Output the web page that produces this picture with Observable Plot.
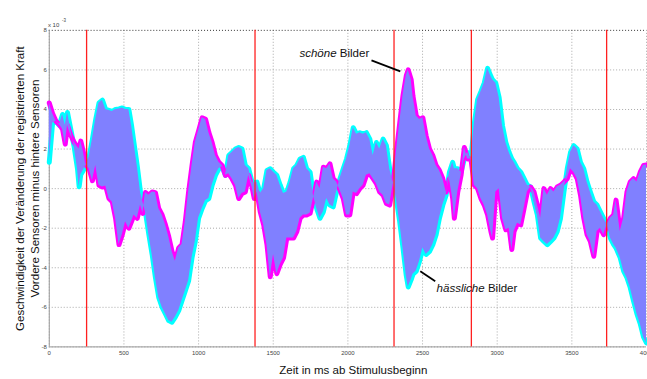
<!DOCTYPE html>
<html><head><meta charset="utf-8">
<script src="https://cdn.jsdelivr.net/npm/d3@7"></script>
<script src="https://cdn.jsdelivr.net/npm/@observablehq/plot@0.6"></script>
<style>
html,body{margin:0;padding:0;background:#fff;overflow:hidden;}
#chart{width:647px;height:379px;overflow:hidden;}
</style></head><body><div id="chart"></div>
<script>
// Zeit in ms
const times = [0,22,45,67,89,107,122,144,167,189,200,211,227,245,267,289,311,333,356,378,400,422,444,467,489,511,533,551,567,589,611,627,644,667,689,711,733,756,778,800,822,844,867,889,911,933,956,978,1000,
1024,1047,1069,1091,1113,1136,1158,1180,1202,1224,1247,1269,1291,1313,1336,1358,1373,1391,1413,1436,1458,1480,1502,1524,1547,1569,1591,1613,1636,1658,1680,1702,1724,1747,1769,1791,1813,1836,1858,1880,1902,1924,1947,1969,1991,
2013,2036,2058,2080,2102,2124,2147,2169,2191,2213,2236,2258,2280,2302,2324,2347,2369,2391,2404,2424,2436,2458,2480,2502,2524,2547,2569,2591,2613,2636,2658,2680,2702,2713,2736,2758,2780,2802,2824,2847,2869,2891,2913,2936,2958,2969,2991,
3013,3036,3058,3080,3098,3113,3136,3158,3180,3202,3224,3247,3269,3291,3313,3336,3358,3380,3402,3424,3447,3469,3491,3513,3536,3558,3580,3602,3624,3647,3669,3691,3713,3736,3758,3780,3796,3824,3847,3869,3891,3913,3936,3958,3980,4000];

// schöne Bilder (x 10^-3)
const schoene = [4.33,3.8,3.4,3.25,3.0,2.25,3.2,2.7,2.33,2.1,2.0,2.4,1.9,1.2,1.0,0.4,1.17,0.17,0.08,0.13,-0.5,-0.67,-1.5,-2.83,-2.33,-1.67,-2.0,-1.67,-1.33,-1.5,-0.83,-1.25,-0.2,-0.33,-0.17,-0.2,-1.0,-1.33,-1.83,-2.42,-3.17,-3.67,-3.0,-2.83,-1.67,-0.17,1.17,2.33,2.92,
3.58,3.5,2.83,2.33,1.67,1.33,1.17,0.67,0.75,0.5,0.17,-0.5,-0.25,-0.17,0.67,0.08,-0.5,-0.17,-1.17,-1.83,-2.83,-4.45,-3.33,-4.3,-3.83,-3.5,-2.5,-2.5,-2.5,-2.17,-1.5,-1.33,-1.33,-1.25,-0.5,0.33,0,1.08,1.0,1.25,0.5,0.33,-0.08,-0.5,-1.33,
-1.33,-0.17,-0.25,0,0.17,0.67,0.75,0.5,0.25,-0.17,-0.33,-0.75,-0.83,0.17,1.8,3.3,4.7,5.7,6.0,5.5,4.67,3.67,3.5,3.58,2.67,2.0,1.67,1.17,0.92,0.5,-0.17,0.5,-0.5,-1.5,-0.17,0.67,2.08,1.5,1.5,0.17,0,-0.5,-0.83,-1.33,-2.17,-2.5,-0.17,
0,-1.5,-2.08,-2.0,-3.08,-2.17,-1.75,-1.83,-1.0,-0.17,0.08,-0.17,-0.83,-1.5,0,-0.33,0,-0.17,0.08,0.17,0.33,0.5,1.0,0.83,0.5,-0.33,-1.5,-2.33,-2.67,-3.42,-2.17,-2.0,-2.33,-1.83,-1.5,-1.33,-0.58,-2.17,-1.5,-0.17,0.33,0.5,0.33,0.83,1.17,1.2];

// hässliche Bilder (x 10^-3)
const haessliche = [1.33,3.3,3.4,3.2,3.75,3.2,3.85,3.0,2.1,1.0,0.1,0.7,0.9,1.2,1.6,2.5,3.5,4.33,4.47,4.0,3.95,3.9,4.0,4.03,4.08,4.0,4.0,3.2,2.33,1.17,-0.17,-0.67,-1.17,-2.33,-3.33,-4.5,-5.5,-6.0,-6.33,-6.67,-6.75,-6.5,-6.17,-5.67,-5.17,-4.67,-3.5,-2.67,-1.5,
-1.0,-0.6,-0.5,0.17,0.67,1.0,1.1,0.67,1.67,1.83,2.0,2.08,2.0,1.17,1.0,0.33,0.3,0.33,-0.25,0,0.92,1.0,0.83,0.67,0.17,-0.25,-0.17,0.33,1.0,1.17,1.5,1.58,1.0,0.83,-0.33,-1.0,-1.5,-1.17,-0.5,-0.83,-0.92,-0.17,0.5,1.0,1.5,
2.17,3.08,2.75,2.83,2.75,2.83,2.5,1.67,2.33,2.0,2.5,2.17,1.0,0.33,-0.5,-1.67,-3.0,-4.4,-4.97,-4.6,-4.33,-4.17,-3.67,-3.0,-3.33,-3.17,-2.83,-2.33,-1.5,-0.83,-0.33,0.83,1.33,1.0,1.0,0.83,1.5,1.83,1.5,3.3,4.5,4.9,5.33,6.08,5.67,5.5,5.33,
4.6,3.17,2.33,1.83,1.5,1.33,1.0,0.83,0.5,0.17,0.08,-0.67,-1.33,-2.5,-2.67,-2.83,-2.67,-2.5,-2.17,-1.5,-0.17,1.0,1.83,2.17,2.0,1.33,1.0,0.33,-0.17,-0.67,-0.83,-1.17,-1.5,-1.83,-2.5,-2.83,-3.0,-3.5,-4.17,-4.5,-5.0,-5.67,-6.33,-6.83,-7.5,-7.8];

const events = [250, 1378, 2309, 2827, 3733];
const xTicks = [0, 500, 1000, 1500, 2000, 2500, 3000, 3500, 4000];
const yTicks = [-8, -6, -4, -2, 0, 2, 4, 6, 8];
const xLabel = "Zeit in ms ab Stimulusbeginn";
const yLabel1 = "Geschwindigkeit der Veränderung der registrierten Kraft";
const yLabel2 = "Vordere Sensoren minus hintere Sensoren";
const annoT = [1935, 2927];
const annoV = [6.85, -5.02];
const annoItalic = ["schöne", "hässliche"];
const annoPlain = ["Bilder", "Bilder"];
const pointerT1 = [2158, 2485], pointerV1 = [6.48, -4.18];
const pointerT2 = [2351, 2585], pointerV2 = [5.93, -4.68];

const data = times.map((t, i) => ({t, m: schoene[i], c: haessliche[i]}));
const annos = annoT.map((t, i) => ({t, v: annoV[i], a: annoItalic[i], b: annoPlain[i]}));
const pointers = pointerT1.map((t, i) => ({t1: t, v1: pointerV1[i], t2: pointerT2[i], v2: pointerV2[i]}));

const font = "'Liberation Sans', Arial, sans-serif";
const fs = 11.6;

const chart = Plot.plot({
  width: 650, height: 379,
  marginLeft: 49, marginRight: 1, marginTop: 30, marginBottom: 31,
  style: {fontFamily: font, background: "#fff", overflow: "visible"},
  x: {domain: [0, 4000]},
  y: {domain: [-8, 8]},
  marks: [
    Plot.gridX(xTicks, {stroke: "#a8a8a8", strokeOpacity: 1, strokeDasharray: "1,2"}),
    Plot.gridY(yTicks.filter(d => d < 8), {stroke: "#a8a8a8", strokeOpacity: 1, strokeDasharray: "1,2"}),
    Plot.ruleY([8], {stroke: "#333", strokeDasharray: "1,2"}),
    Plot.ruleX([0], {stroke: "#999"}),
    Plot.ruleY([-8], {stroke: "#999"}),
    Plot.axisX(xTicks, {tickSize: 0, tickPadding: 4, fontSize: 6, color: "#444", label: null, tickFormat: d => String(d)}),
    Plot.axisY(yTicks, {tickSize: 0, tickPadding: 2.5, fontSize: 6, color: "#444", label: null, tickFormat: d => String(d)}),
    Plot.line(data, {x: "t", y: "c", stroke: "#00ffff", strokeWidth: 5}),
    Plot.line(data, {x: "t", y: "m", stroke: "#ff00ff", strokeWidth: 5}),
    Plot.areaY(data, {x: "t", y1: "m", y2: "c", fill: "#8080ff"}),
    Plot.ruleX(events, {stroke: "#ff2020", strokeWidth: 1.3}),
    Plot.link(pointers, {x1: "t1", y1: "v1", x2: "t2", y2: "v2", stroke: "#000", strokeWidth: 1.8}),
    Plot.text(annos, {x: "t", y: "v", text: "a", textAnchor: "end", dx: -1.6, fontStyle: "italic", fontSize: fs, fill: "#111"}),
    Plot.text(annos, {x: "t", y: "v", text: "b", textAnchor: "start", dx: 1.6, fontSize: fs, fill: "#111"}),
    Plot.text([xLabel], {frameAnchor: "bottom", textAnchor: "middle", lineAnchor: "middle", dx: 5.5, dy: 23.3, fontSize: fs, fill: "#111"}),
    Plot.text([yLabel1], {frameAnchor: "left", textAnchor: "middle", lineAnchor: "middle", rotate: -90, dx: -28.7, fontSize: fs, fill: "#111"}),
    Plot.text([yLabel2], {frameAnchor: "left", textAnchor: "middle", lineAnchor: "middle", rotate: -90, dx: -14.4, fontSize: fs, fill: "#111"}),
    Plot.text(["x 10"], {frameAnchor: "top-left", textAnchor: "start", lineAnchor: "middle", dx: -1.3, dy: -5.2, fontSize: 6, fill: "#444"}),
    Plot.text(["-3"], {frameAnchor: "top-left", textAnchor: "start", lineAnchor: "middle", dx: 12.7, dy: -9.4, fontSize: 4.5, fill: "#444"})
  ]
});
document.getElementById("chart").appendChild(chart);
</script>
</body></html>
